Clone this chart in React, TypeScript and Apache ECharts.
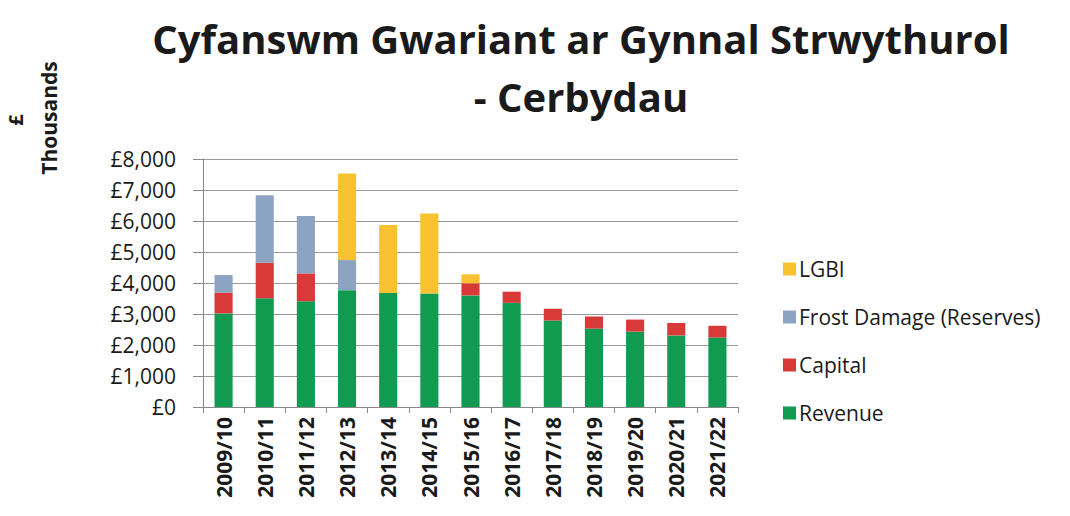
import React, { useEffect, useRef } from "react";
import * as echarts from "echarts";

const categories = ["2009/10", "2010/11", "2011/12", "2012/13", "2013/14", "2014/15", "2015/16", "2016/17", "2017/18", "2018/19", "2019/20", "2020/21", "2021/22"];
const revenue = [3020, 3510, 3410, 3770, 3680, 3660, 3600, 3360, 2790, 2530, 2430, 2310, 2240];
const capital = [670, 1140, 900, 0, 0, 0, 390, 360, 380, 390, 390, 400, 380];
const frostDamage = [570, 2180, 1850, 970, 0, 0, 0, 0, 0, 0, 0, 0, 0];
const lgbi = [0, 0, 0, 2790, 2190, 2580, 290, 0, 0, 0, 0, 0, 0];
const yTicks = { min: 0, max: 8000, interval: 1000 };
const titleLines = ["Cyfanswm Gwariant ar Gynnal Strwythurol", "- Cerbydau"];
const yAxisNameLines = ["£", "Thousands"];

const FONT = "'Open Sans', Lato, sans-serif";
const COLORS = { revenue: "#109B50", capital: "#D83A3A", frost: "#8CA4C2", lgbi: "#F8C230" };

export default function App() {
  const ref = useRef<HTMLDivElement>(null);
  useEffect(() => {
    document.body.style.margin = "0";
    const chart = echarts.init(ref.current!, null, { renderer: "svg" });
    const mk = (name: string, data: number[], color: string) => ({
      name,
      type: "bar",
      stack: "total",
      data,
      barWidth: "44%",
      itemStyle: { color },
    });
    chart.setOption({
      animation: false,
      textStyle: { fontFamily: FONT },
      grid: { left: 203, right: 332, top: 159, bottom: 109, containLabel: false },
      graphic: [
        { type: "text", x: 581, y: 38, style: { text: titleLines[0], font: `bold 40px ${FONT}`, fill: "#1a1a1a", textAlign: "center", textVerticalAlign: "middle" } },
        { type: "text", x: 581, y: 96, style: { text: titleLines[1], font: `bold 40px ${FONT}`, fill: "#1a1a1a", textAlign: "center", textVerticalAlign: "middle" } },
        { type: "text", x: 15, y: 120, rotation: Math.PI / 2, style: { text: yAxisNameLines[0], font: `bold 20px ${FONT}`, fill: "#1a1a1a", textAlign: "center", textVerticalAlign: "middle" } },
        { type: "text", x: 49, y: 118, rotation: Math.PI / 2, style: { text: yAxisNameLines[1], font: `bold 21px ${FONT}`, fill: "#1a1a1a", textAlign: "center", textVerticalAlign: "middle" } },
      ],
      legend: {
        orient: "vertical",
        left: 778,
        top: 252,
        itemWidth: 13,
        itemHeight: 13,
        itemGap: 24,
        icon: "rect",
        data: ["LGBI", "Frost Damage (Reserves)", "Capital", "Revenue"],
        textStyle: { fontSize: 21, color: "#1a1a1a", fontFamily: FONT, lineHeight: 24, padding: [0, 0, 0, -2] },
      },
      xAxis: {
        type: "category",
        data: categories,
        axisLine: { lineStyle: { color: "#888" } },
        axisTick: { show: true, length: 6, lineStyle: { color: "#888" } },
        axisLabel: { rotate: 90, fontSize: 21, fontWeight: "bold", color: "#1a1a1a", margin: 10, interval: 0, fontFamily: FONT },
      },
      yAxis: {
        type: "value",
        min: yTicks.min,
        max: yTicks.max,
        interval: yTicks.interval,
        axisLine: { show: true, lineStyle: { color: "#888" } },
        axisTick: { show: true, inside: false, length: 10, lineStyle: { color: "#888" } },
        splitLine: { lineStyle: { color: "#999" } },
        axisLabel: {
          fontSize: 21,
          color: "#1a1a1a",
          margin: 27,
          fontFamily: FONT,
          formatter: (v: number) => "£" + v.toLocaleString("en-GB"),
        },
      },
      series: [
        mk("Revenue", revenue, COLORS.revenue),
        mk("Capital", capital, COLORS.capital),
        mk("Frost Damage (Reserves)", frostDamage, COLORS.frost),
        mk("LGBI", lgbi, COLORS.lgbi),
      ],
    });
    return () => chart.dispose();
  }, []);
  return <div ref={ref} style={{ width: 1070, height: 516 }} />;
}
